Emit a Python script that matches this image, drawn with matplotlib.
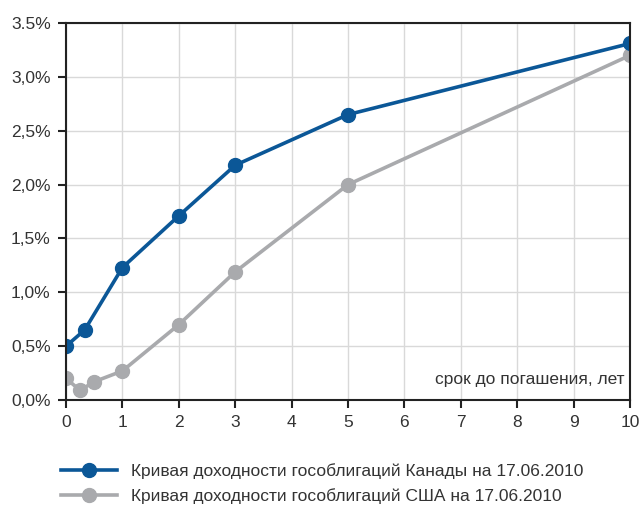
import matplotlib.pyplot as plt
from matplotlib.ticker import FixedLocator

plt.rcParams['font.family'] = ['Liberation Sans Narrow', 'Liberation Sans', 'DejaVu Sans']

# Сроки до погашения (лет) и доходности (%)
ca_term = [0, 0.33, 1, 2, 3, 5, 10]
ca_yield = [0.50, 0.65, 1.23, 1.71, 2.18, 2.65, 3.31]
us_term = [0, 0.25, 0.5, 1, 2, 3, 5, 10]
us_yield = [0.20, 0.09, 0.17, 0.27, 0.70, 1.19, 2.00, 3.20]

y_ticks = [0, 0.5, 1.0, 1.5, 2.0, 2.5, 3.0, 3.5]
y_labels = ["0,0%", "0,5%", "1,0%", "1,5%", "2,0%", "2,5%", "3,0%", "3.5%"]
x_ticks = list(range(11))

ca_label = "Кривая доходности гособлигаций Канады на 17.06.2010"
us_label = "Кривая доходности гособлигаций США на 17.06.2010"

blue = "#0b5797"
gray = "#a9aaad"

fig = plt.figure(figsize=(6.39, 5.07), dpi=100)
ax = fig.add_axes([0.1033, 0.211, 0.8827, 0.7436])

ax.plot(us_term, us_yield, color=gray, lw=2.6, marker="o", ms=10, zorder=3, label=us_label)
ax.plot(ca_term, ca_yield, color=blue, lw=2.6, marker="o", ms=10, zorder=4, label=ca_label)

ax.set_xlim(0, 10)
ax.set_ylim(0, 3.5)
ax.xaxis.set_major_locator(FixedLocator(x_ticks))
ax.set_yticks(y_ticks)
ax.set_yticklabels(y_labels)
ax.grid(True, color="#d9d9d9", lw=1)
ax.set_axisbelow(True)
for s in ax.spines.values():
    s.set_color("#222222")
    s.set_linewidth(1.5)
    s.set_zorder(5)
ax.tick_params(direction="out", length=6, width=1.5, color="#222222",
               labelsize=12.5, labelcolor="#333333", pad=5)
for lab in ax.get_xticklabels() + ax.get_yticklabels():
    lab.set_clip_on(False)

ax.text(0.99, 0.055, "срок до погашения, лет", transform=ax.transAxes,
        ha="right", va="center", fontsize=12.5, color="#333333")

handles, labels = ax.get_legend_handles_labels()
fig.legend(handles[::-1], labels[::-1], loc="upper left", bbox_to_anchor=(0.085, 0.1),
           frameon=False, fontsize=12.5, handlelength=3.2, handletextpad=0.8,
           labelspacing=0.55, borderaxespad=0, labelcolor="#333333")

fig.savefig("out.png", dpi=100)
